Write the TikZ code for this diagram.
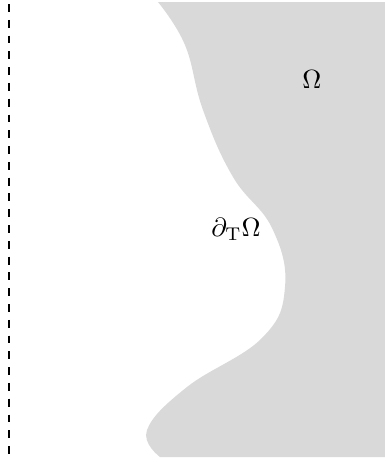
\documentclass[tikz,border=0pt]{standalone}
\usepackage{amsmath}
\usepackage{tikz}
\usetikzlibrary{positioning}
\tikzset{
	domainfill/.style={fill=black!15, draw=none}
}
\tikzset{
	walldash/.style={line width=0.75pt, dash pattern=on 3pt off 3pt}
}

\begin{document}
\begin{tikzpicture}[x=0.38pt, y=-0.38pt]
      \useasboundingbox (0,0) rectangle (385,462);
      \fill[domainfill] plot[smooth, tension=0.7] coordinates {(158,2) (185,45) (203,110) (233,177) (272,228) (285,287) (262,338) (187,387) (147,430) (160,457)}
        -- (385,457) -- (385,2) -- cycle;
      \coordinate (wtop) at (9,4);
      \coordinate (wbot) at (9,456);
      \draw[walldash] (wtop) -- (wbot);
      \node (omega) at (312,79) {$\Omega$};
      \node (bdry) at (236,229) {$\partial_{\mathrm{T}}\Omega$};
    \end{tikzpicture}
\end{document}
